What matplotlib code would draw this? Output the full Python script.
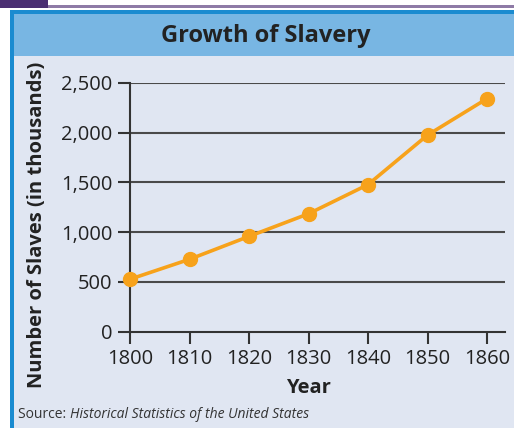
import matplotlib
matplotlib.use('Agg')
import matplotlib.pyplot as plt
from matplotlib.patches import Rectangle

# Datos (miles de esclavos)
years = [1800, 1810, 1820, 1830, 1840, 1850, 1860]
slaves = [527, 727, 957, 1184, 1477, 1974, 2340]
y_ticks = [0, 500, 1000, 1500, 2000, 2500]
y_tick_labels = ['0', '500', '1,000', '1,500', '2,000', '2,500']

W, H = 514, 428
plt.rcParams['font.family'] = ['Open Sans', 'DejaVu Sans']

fig = plt.figure(figsize=(W / 100, H / 100), dpi=100)
fig.patch.set_facecolor('white')


def px_rect(x0, y0, x1, y1, color):
    # rectangulo en pixeles, origen arriba a la izquierda
    fig.add_artist(Rectangle((x0 / W, 1 - y1 / H), (x1 - x0) / W, (y1 - y0) / H,
                             transform=fig.transFigure, facecolor=color,
                             edgecolor='none', zorder=0))


# marco decorativo
px_rect(48, 5, W, 8, '#8E7AA6')
px_rect(0, 0, 48, 8, '#4A2E72')
px_rect(10, 10, W, H, '#1A8BD0')
px_rect(14, 14, W, 56, '#78B6E3')
px_rect(14, 56, W, H, '#E0E6F2')

fig.text(266 / W, 1 - 36 / H, 'Growth of Slavery', ha='center', va='center',
         fontsize=17, fontweight='bold', color='#222222')

ax = fig.add_axes([130 / W, 1 - 331.7 / H, (505 - 130) / W, (331.7 - 82.7) / H])
ax.set_facecolor('none')
ax.set_xlim(1800, 1800 + (505 - 130) / 59.5 * 10)
ax.set_ylim(0, 2500)

for s in ['top', 'right']:
    ax.spines[s].set_visible(False)
for s in ['left', 'bottom']:
    ax.spines[s].set_color('#333333')
    ax.spines[s].set_linewidth(1.5)

for v in y_ticks[1:]:
    ax.axhline(v, color='#4A4A4A', lw=1.5, zorder=1)

ax.set_yticks(y_ticks)
ax.set_yticklabels(y_tick_labels)
ax.set_xticks(years)
ax.tick_params(axis='both', length=8.6, width=1.5, color='#333333',
               labelsize=14.5, labelcolor='#222222', pad=4)

ax.plot(years, slaves, color='#F7A21B', lw=2.6, marker='o', markersize=10,
        zorder=3, clip_on=False)

fig.text(37 / W, 1 - 225 / H, 'Number of Slaves (in thousands)', rotation=90,
         ha='center', va='center', fontsize=14.5, fontweight='bold', color='#222222')
fig.text(308 / W, 1 - 388 / H, 'Year', ha='center', va='center',
         fontsize=14.5, fontweight='bold', color='#222222')

src = fig.text(18 / W, 1 - 414 / H, 'Source: ', ha='left', va='center',
               fontsize=10, color='#333333')
ax.annotate('Historical Statistics of the United States', xy=(1, 0), xycoords=src,
            ha='left', va='bottom', fontsize=10, style='italic', color='#333333')

fig.savefig('out.png', dpi=100)
